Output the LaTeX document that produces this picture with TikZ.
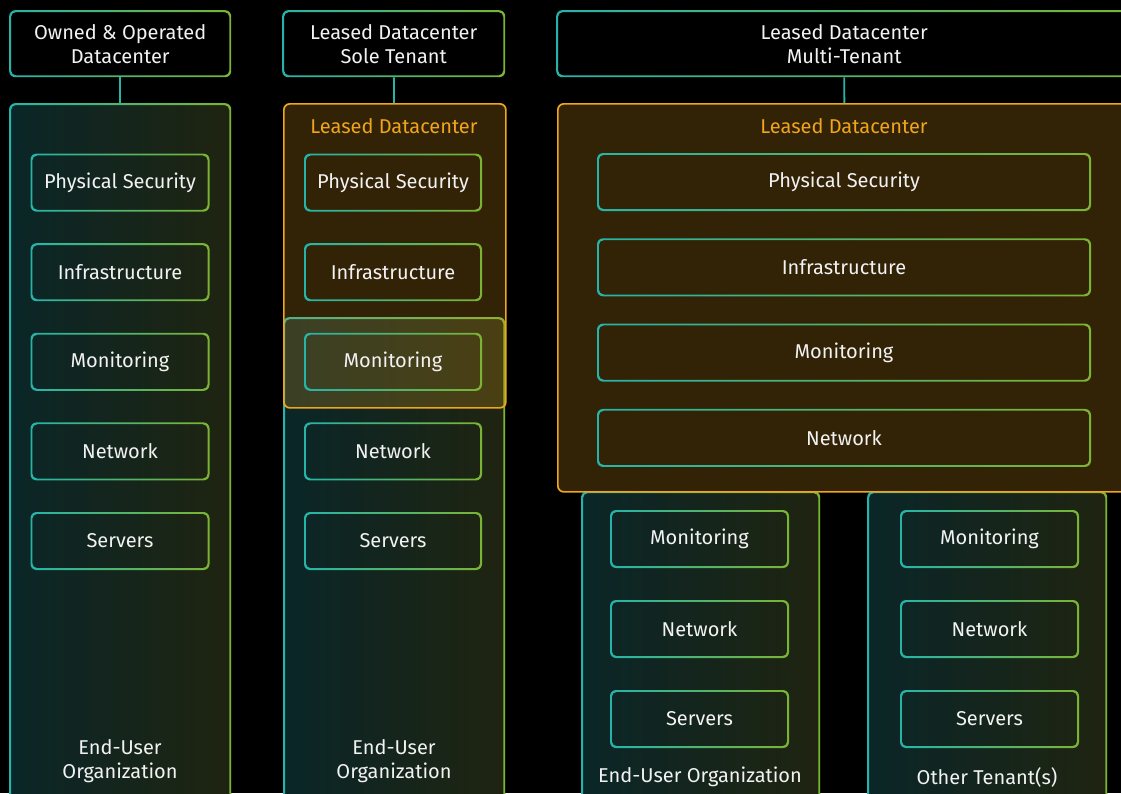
\documentclass[tikz,border=0pt]{standalone}
\usepackage{fontspec}
\setmainfont{Fira Sans}
\usetikzlibrary{positioning}
\definecolor{edgeteal}{HTML}{26B4AA}
\definecolor{edgegreen}{HTML}{7AB433}
\definecolor{fillteal}{HTML}{0A2628}
\definecolor{fillolive}{HTML}{1F2410}
\definecolor{leaseorange}{HTML}{F0A51E}
\definecolor{labelwhite}{HTML}{F2F2F2}

\tikzset{
  gradedge/.style={path picture={
    \shade[left color=edgeteal, right color=edgegreen, even odd rule, rounded corners=#1]
      (path picture bounding box.south west) rectangle (path picture bounding box.north east)
      ([shift={(1.8pt,1.8pt)}]path picture bounding box.south west)
        rectangle ([shift={(-1.8pt,-1.8pt)}]path picture bounding box.north east);
  }},
  headbox/.style={rounded corners=6pt, fill=black, gradedge=5pt, text=labelwhite,
    align=center, minimum height=67pt, inner sep=0pt},
  colbox/.style={rounded corners=6pt, left color=fillteal, right color=fillolive,
    gradedge=5pt, inner sep=0pt},
  layerbox/.style={rounded corners=6pt, gradedge=5pt, text=labelwhite,
    minimum height=58pt, inner sep=0pt},
  leasebox/.style={rounded corners=6pt, draw=leaseorange, line width=1.7pt,
    fill=leaseorange, fill opacity=0.21, inner sep=0pt},
  leasetext/.style={text=leaseorange},
  orgtext/.style={text=labelwhite, align=center},
  link/.style={draw=edgeteal, line width=1.8pt}
}

\begin{document}
\begin{tikzpicture}[x=1pt, y=-1pt, font=\fontsize{20}{24}\selectfont]
	\useasboundingbox (0,0) rectangle (1121,793);
	\fill[black] (0,0) rectangle (1121,793);
	
	% owned & operated
	\node[headbox, minimum width=222pt, anchor=north west] (own-head) at (9,10)
		{Owned \& Operated\\Datacenter};
	\node[colbox, minimum width=222pt, minimum height=710pt, anchor=north west] (own)
		at (9,103) {};
	\draw[link] (own-head) -- (own);
	\foreach \lbl [count=\i] in {Physical Security, Infrastructure, Monitoring, Network, Servers}{
		\node[layerbox, minimum width=179pt] (own-\i) at (120, 93+89.6*\i) {\lbl};
	}
	\node[orgtext] (own-org) at (120,761) {End-User\\Organization};
	
	% sole tenant
	\node[headbox, minimum width=223pt, anchor=north west] (sole-head) at (282,10)
		{Leased Datacenter\\Sole Tenant};
	\node[colbox, minimum width=222pt, minimum height=500pt, anchor=north west] (sole)
		at (283,317) {};
	\node[leasebox, minimum width=222pt, minimum height=304pt, anchor=north west] (sole-lease)
		at (283,103) {};
	\draw[link] (sole-head) -- (sole-lease);
	\node[leasetext] (sole-lease-title) at (394,126) {Leased Datacenter};
	\foreach \lbl [count=\i] in {Physical Security, Infrastructure, Monitoring, Network, Servers}{
		\node[layerbox, minimum width=178pt] (sole-\i) at (393, 93+89.6*\i) {\lbl};
	}
	\node[orgtext] (sole-org) at (394,761) {End-User\\Organization};
	
	% multi-tenant
	\node[headbox, minimum width=576pt, anchor=north west] (multi-head) at (556,10)
		{Leased Datacenter\\Multi-Tenant};
	\node[colbox, minimum width=239pt, minimum height=320pt, anchor=north west] (multi-own)
		at (581,491) {};
	\node[colbox, minimum width=240pt, minimum height=320pt, anchor=north west] (multi-other)
		at (867,491) {};
	\node[leasebox, minimum width=574pt, minimum height=388pt, anchor=north west] (multi-lease)
		at (557,103) {};
	\draw[link] (multi-head) -- (multi-lease);
	\node[leasetext] (multi-lease-title) at (844,126) {Leased Datacenter};
	\foreach \lbl [count=\i] in {Physical Security, Infrastructure, Monitoring, Network}{
		\node[layerbox, minimum width=494pt] (multi-\i) at (844, 96.7+85.3*\i) {\lbl};
	}
	\foreach \lbl [count=\i] in {Monitoring, Network, Servers}{
		\node[layerbox, minimum width=179pt] (multi-own-\i) at (699.5, 449+90*\i) {\lbl};
		\node[layerbox, minimum width=179pt] (multi-other-\i) at (989.5, 449+90*\i) {\lbl};
	}
	\node[orgtext] (multi-own-org) at (700,777) {End-User Organization};
	\node[orgtext] (multi-other-org) at (987,777) {Other Tenant(s)};
\end{tikzpicture}
\end{document}
